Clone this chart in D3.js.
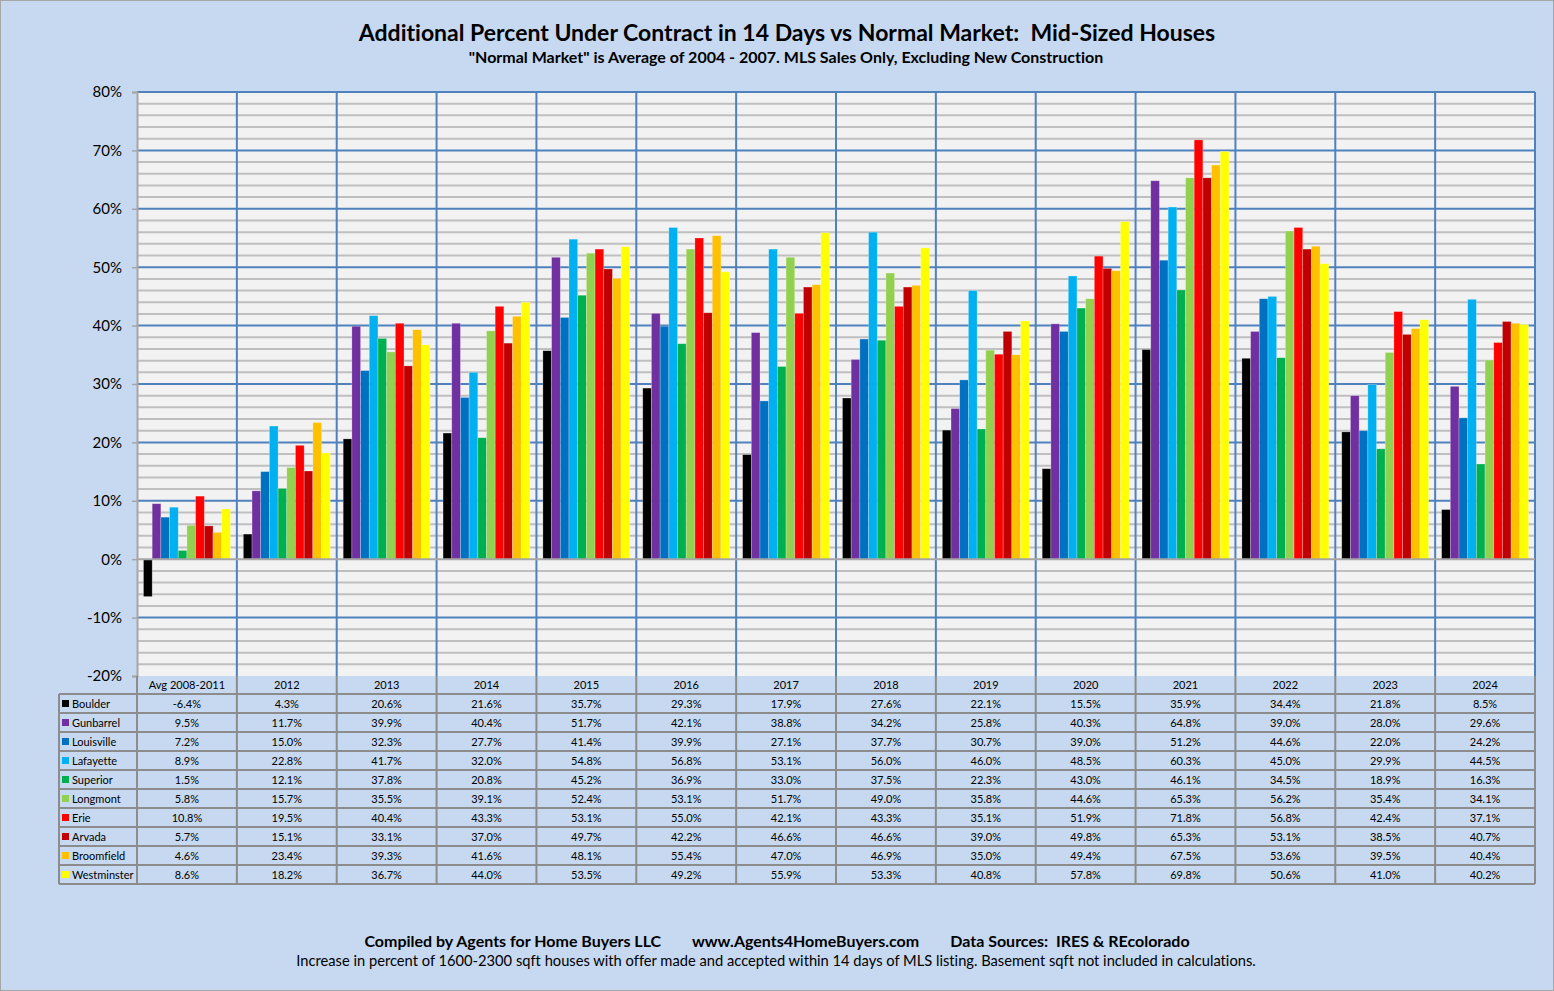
<!DOCTYPE html>
<html>
<head>
<meta charset="utf-8">
<script src="https://cdn.jsdelivr.net/npm/d3@7"></script>
<style>
  body { margin: 0; background: #c6d9f0; }
  svg { display: block; font-family: Lato, "Noto Sans", sans-serif; font-variant-ligatures: none; }
</style>
</head>
<body>
<div id="chart"></div>
<script>
const categories = ['Avg 2008-2011', '2012', '2013', '2014', '2015', '2016', '2017', '2018', '2019', '2020', '2021', '2022', '2023', '2024'];
const seriesNames = ['Boulder', 'Gunbarrel', 'Louisville', 'Lafayette', 'Superior', 'Longmont', 'Erie', 'Arvada', 'Broomfield', 'Westminster'];
const seriesColors = ['#000000', '#7030a0', '#0070c0', '#00b0f0', '#00b050', '#92d050', '#ff0000', '#c00000', '#ffc000', '#ffff00'];

const boulder = [-6.4, 4.3, 20.6, 21.6, 35.7, 29.3, 17.9, 27.6, 22.1, 15.5, 35.9, 34.4, 21.8, 8.5];
const gunbarrel = [9.5, 11.7, 39.9, 40.4, 51.7, 42.1, 38.8, 34.2, 25.8, 40.3, 64.8, 39.0, 28.0, 29.6];
const louisville = [7.2, 15.0, 32.3, 27.7, 41.4, 39.9, 27.1, 37.7, 30.7, 39.0, 51.2, 44.6, 22.0, 24.2];
const lafayette = [8.9, 22.8, 41.7, 32.0, 54.8, 56.8, 53.1, 56.0, 46.0, 48.5, 60.3, 45.0, 29.9, 44.5];
const superior = [1.5, 12.1, 37.8, 20.8, 45.2, 36.9, 33.0, 37.5, 22.3, 43.0, 46.1, 34.5, 18.9, 16.3];
const longmont = [5.8, 15.7, 35.5, 39.1, 52.4, 53.1, 51.7, 49.0, 35.8, 44.6, 65.3, 56.2, 35.4, 34.1];
const erie = [10.8, 19.5, 40.4, 43.3, 53.1, 55.0, 42.1, 43.3, 35.1, 51.9, 71.8, 56.8, 42.4, 37.1];
const arvada = [5.7, 15.1, 33.1, 37.0, 49.7, 42.2, 46.6, 46.6, 39.0, 49.8, 65.3, 53.1, 38.5, 40.7];
const broomfield = [4.6, 23.4, 39.3, 41.6, 48.1, 55.4, 47.0, 46.9, 35.0, 49.4, 67.5, 53.6, 39.5, 40.4];
const westminster = [8.6, 18.2, 36.7, 44.0, 53.5, 49.2, 55.9, 53.3, 40.8, 57.8, 69.8, 50.6, 41.0, 40.2];

const seriesValues = [boulder, gunbarrel, louisville, lafayette, superior, longmont, erie, arvada, broomfield, westminster];

const yTicks = [-20, -10, 0, 10, 20, 30, 40, 50, 60, 70, 80];

const W = 1554, H = 991;
const plotLeft = 137, plotRight = 1535, plotTop = 92, plotBottom = 676;
const tableLeft = 59, headerH = 18, rowH = 19;

const svg = d3.select('#chart').append('svg')
    .attr('width', W)
    .attr('height', H);

svg.append('rect')
    .attr('x', 0.5).attr('y', 0.5)
    .attr('width', W - 1).attr('height', H - 1)
    .attr('fill', '#c6d9f0')
    .attr('stroke', '#a6a6a6');

// titles
svg.append('text')
    .attr('x', 787).attr('y', 41)
    .attr('text-anchor', 'middle')
    .attr('font-size', 23).attr('font-weight', 'bold')
    .style('white-space', 'pre')
    .text('Additional Percent Under Contract in 14 Days vs Normal Market:  Mid-Sized Houses');
svg.append('text')
    .attr('x', 786).attr('y', 63)
    .attr('text-anchor', 'middle')
    .attr('font-size', 16).attr('font-weight', 'bold')
    .text('"Normal Market" is Average of 2004 - 2007. MLS Sales Only, Excluding New Construction');

const xScale = d3.scaleBand()
    .domain(categories)
    .range([plotLeft, plotRight])
    .padding(0);
const bw = xScale.bandwidth();

const xInner = d3.scaleBand()
    .domain(seriesNames)
    .range([bw * 0.065, bw * 0.935])
    .padding(0);

const yScale = d3.scaleLinear()
    .domain([-20, 80])
    .range([plotBottom, plotTop]);

// plot background
svg.append('rect')
    .attr('x', plotLeft).attr('y', plotTop)
    .attr('width', plotRight - plotLeft).attr('height', plotBottom - plotTop)
    .attr('fill', '#f2f2f2');

// minor gridlines every 2%
const minor = d3.range(-18, 80, 2).filter(v => v % 10 !== 0);
svg.append('g').selectAll('line')
    .data(minor)
    .join('line')
    .attr('x1', plotLeft).attr('x2', plotRight)
    .attr('y1', d => yScale(d)).attr('y2', d => yScale(d))
    .attr('stroke', '#bfbfbf').attr('stroke-width', 2);

// major gridlines
svg.append('g').selectAll('line')
    .data(yTicks.filter(v => v !== 0 && v !== -20))
    .join('line')
    .attr('x1', plotLeft).attr('x2', plotRight)
    .attr('y1', d => yScale(d)).attr('y2', d => yScale(d))
    .attr('stroke', '#4f81bd').attr('stroke-width', 2);

// vertical gridlines
svg.append('g').selectAll('line')
    .data(categories.slice(1).concat(['end']))
    .join('line')
    .attr('x1', d => d === 'end' ? plotRight : xScale(d))
    .attr('x2', d => d === 'end' ? plotRight : xScale(d))
    .attr('y1', plotTop).attr('y2', plotBottom)
    .attr('stroke', '#4f81bd').attr('stroke-width', 2);

// bars
const groups = svg.append('g').selectAll('g')
    .data(categories)
    .join('g')
    .attr('transform', d => `translate(${xScale(d)},0)`);

groups.selectAll('rect')
    .data((d, i) => seriesNames.map((s, j) => ({ s, v: seriesValues[j][i], c: seriesColors[j] })))
    .join('rect')
    .attr('x', d => xInner(d.s))
    .attr('width', xInner.bandwidth())
    .attr('y', d => yScale(Math.max(0, d.v)))
    .attr('height', d => Math.abs(yScale(d.v) - yScale(0)))
    .attr('fill', d => d.c)
    .attr('stroke', 'rgba(255,255,255,0.35)')
    .attr('stroke-width', 0.7);

// zero line and top border
svg.append('line')
    .attr('x1', plotLeft).attr('x2', plotRight)
    .attr('y1', yScale(0)).attr('y2', yScale(0))
    .attr('stroke', '#a6a6a6').attr('stroke-width', 2);

svg.append('line')
    .attr('x1', plotLeft).attr('x2', plotRight)
    .attr('y1', plotTop).attr('y2', plotTop)
    .attr('stroke', '#4f81bd').attr('stroke-width', 2);

const yAxis = svg.append('g')
    .attr('transform', `translate(${plotLeft},0)`)
    .call(d3.axisLeft(yScale).tickValues(yTicks).tickSize(5).tickPadding(10).tickFormat(d => d + '%'));
yAxis.select('.domain').attr('stroke', '#a6a6a6').attr('stroke-width', 2);
yAxis.selectAll('.tick line').attr('stroke', '#a6a6a6').attr('stroke-width', 1.5);
yAxis.selectAll('.tick text')
    .attr('font-family', 'Lato, "Noto Sans", sans-serif')
    .attr('font-size', 15).attr('fill', '#000');

// data table
const table = svg.append('g');
const rowsTop = plotBottom + headerH;
const tableBottom = rowsTop + rowH * seriesNames.length;
const lineColor = '#8c8c8c';

// header labels
table.selectAll('text.hdr')
    .data(categories)
    .join('text')
    .attr('class', 'hdr')
    .attr('x', d => xScale(d) + bw / 2)
    .attr('y', plotBottom + headerH / 2 + 4)
    .attr('text-anchor', 'middle')
    .attr('font-size', 11)
    .text(d => d);

// row lines
table.selectAll('line.h')
    .data(d3.range(seriesNames.length + 1))
    .join('line')
    .attr('class', 'h')
    .attr('x1', tableLeft).attr('x2', plotRight)
    .attr('y1', i => rowsTop + i * rowH).attr('y2', i => rowsTop + i * rowH)
    .attr('stroke', lineColor).attr('stroke-width', 2);

// column lines
const colXs = categories.map(c => xScale(c)).concat([plotRight]);
table.selectAll('line.v')
    .data(colXs)
    .join('line')
    .attr('class', 'v')
    .attr('x1', d => d).attr('x2', d => d)
    .attr('y1', plotBottom).attr('y2', tableBottom)
    .attr('stroke', lineColor).attr('stroke-width', 2);
table.append('line')
    .attr('x1', tableLeft).attr('x2', tableLeft)
    .attr('y1', rowsTop).attr('y2', tableBottom)
    .attr('stroke', lineColor).attr('stroke-width', 2);

// legend keys in first column
const rows = table.selectAll('g.row')
    .data(seriesNames)
    .join('g')
    .attr('class', 'row')
    .attr('transform', (d, i) => `translate(0,${rowsTop + i * rowH})`);

rows.append('rect')
    .attr('x', tableLeft + 3).attr('y', rowH / 2 - 3.5)
    .attr('width', 7).attr('height', 7)
    .attr('fill', (d, i) => seriesColors[i]);

rows.append('text')
    .attr('x', tableLeft + 13).attr('y', rowH / 2 + 4)
    .attr('font-size', 11)
    .text(d => d);

rows.selectAll('text.val')
    .data((d, i) => seriesValues[i])
    .join('text')
    .attr('class', 'val')
    .attr('x', (v, k) => xScale(categories[k]) + bw / 2)
    .attr('y', rowH / 2 + 4)
    .attr('text-anchor', 'middle')
    .attr('font-size', 11)
    .text(v => v.toFixed(1) + '%');

// footer
svg.append('text')
    .attr('x', 777).attr('y', 947)
    .attr('text-anchor', 'middle')
    .attr('font-size', 16).attr('font-weight', 'bold')
    .style('white-space', 'pre')
    .text('Compiled by Agents for Home Buyers LLC        www.Agents4HomeBuyers.com        Data Sources:  IRES & REcolorado');
svg.append('text')
    .attr('x', 776).attr('y', 966)
    .attr('text-anchor', 'middle')
    .attr('font-size', 14.7)
    .text('Increase in percent of 1600-2300 sqft houses with offer made and accepted within 14 days of MLS listing. Basement sqft not included in calculations.');
</script>
</body>
</html>
